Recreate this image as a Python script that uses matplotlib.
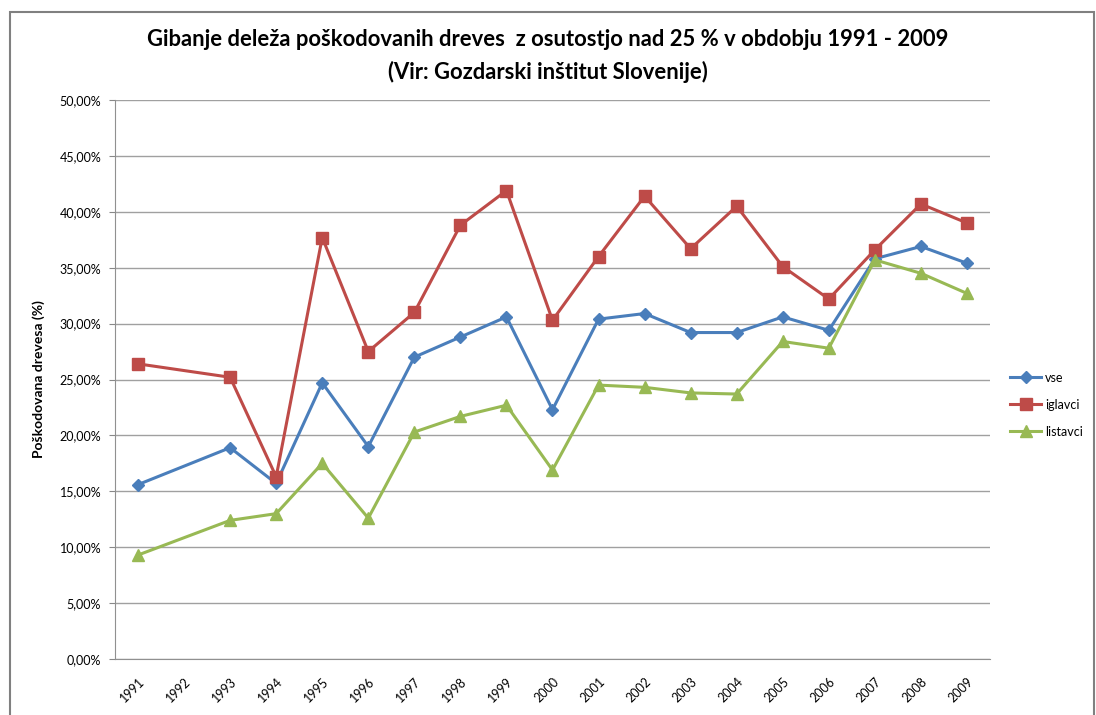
import numpy as np
import matplotlib
matplotlib.use("Agg")
from matplotlib import pyplot as plt
from matplotlib.patches import Rectangle

plt.rcParams['font.family'] = ['Lato', 'DejaVu Sans']

years = [str(y) for y in range(1991, 2010)]
# 1992 has no measurement
vse = [15.6, None, 18.9, 15.7, 24.7, 19.0, 27.0, 28.8, 30.6, 22.3, 30.4, 30.9,
       29.2, 29.2, 30.6, 29.4, 35.8, 36.9, 35.4]
iglavci = [26.4, None, 25.2, 16.3, 37.7, 27.5, 31.0, 38.8, 41.9, 30.3, 36.0, 41.4,
           36.7, 40.5, 35.1, 32.2, 36.6, 40.7, 39.0]
listavci = [9.3, None, 12.4, 13.0, 17.5, 12.6, 20.3, 21.7, 22.7, 16.9, 24.5, 24.3,
            23.8, 23.7, 28.4, 27.8, 35.7, 34.5, 32.7]

series = [("vse", vse, "#4a7ebb", "D", 6),
          ("iglavci", iglavci, "#be4b48", "s", 8),
          ("listavci", listavci, "#98b954", "^", 8)]

fig = plt.figure(figsize=(10.96, 7.15), dpi=100)
ax = fig.add_axes([115 / 1096, 1 - 659 / 715, 875 / 1096, 559 / 715])

x = np.arange(len(years))
for name, vals, col, mk, ms in series:
    xs = [i for i, v in zip(x, vals) if v is not None]
    ys = [v for v in vals if v is not None]
    ax.plot(xs, ys, color=col, marker=mk, markersize=ms, linewidth=2.2, label=name)

ax.set_xlim(-0.5, len(years) - 0.5)
ax.set_ylim(0, 50)
ax.set_yticks(np.arange(0, 51, 5))
ax.set_yticklabels([f"{v:.2f}".replace(".", ",") + "%" for v in np.arange(0, 51, 5)],
                   fontsize=9)
ax.set_xticks(x)
ax.set_xticklabels(years, rotation=45, fontsize=9, ha="right", rotation_mode="anchor")
ax.tick_params(axis="x", length=0, pad=12)
ax.tick_params(axis="y", length=4, color="#888888", pad=6)
ax.grid(axis="y", color="#a0a0a0", linewidth=1)
ax.set_axisbelow(True)
for s in ["top", "right"]:
    ax.spines[s].set_visible(False)
for s in ["left", "bottom"]:
    ax.spines[s].set_color("#909090")

ax.set_ylabel("Poškodovana drevesa (%)", fontsize=10, fontweight="bold", labelpad=10)

fig.text(0.5, 1 - 40 / 715, "Gibanje deleža poškodovanih dreves  z osutostjo nad 25 % v obdobju 1991 - 2009",
         ha="center", va="center", fontsize=15.8, fontweight="bold")
fig.text(0.5, 1 - 72 / 715, "(Vir: Gozdarski inštitut Slovenije)",
         ha="center", va="center", fontsize=15.8, fontweight="bold")

leg = ax.legend(loc="center left", bbox_to_anchor=(1.01, 0.455), frameon=False,
                fontsize=9, handlelength=2.5, labelspacing=1.2, handletextpad=0.3)

fig.patches.append(Rectangle((10 / 1096, -0.02), 1084 / 1096, 1 - 12 / 715 + 0.02,
                             transform=fig.transFigure, fill=False,
                             edgecolor="#808080", linewidth=1.5))

fig.savefig("out.png", dpi=100)
